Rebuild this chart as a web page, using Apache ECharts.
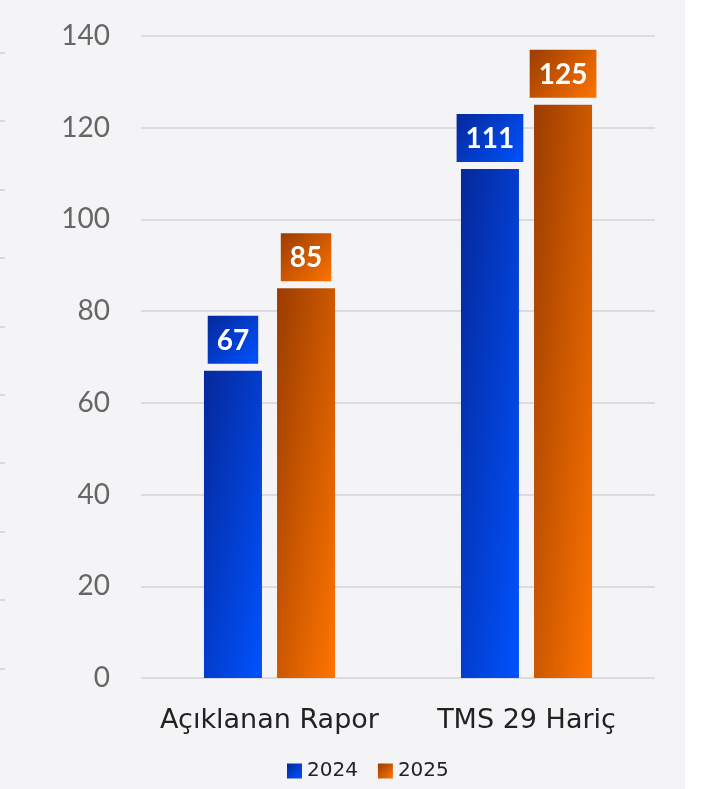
<!DOCTYPE html>
<html>
<head>
<meta charset="utf-8">
<script src="https://cdn.jsdelivr.net/npm/echarts@6/dist/echarts.min.js"></script>
<style>
html,body{margin:0;padding:0;background:#ffffff;}
#chart{width:714px;height:789px;}
</style>
</head>
<body>
<div id="chart"></div>
<script>
const categories = ['Açıklanan Rapor', 'TMS 29 Hariç'];
const seriesNames = ['2024', '2025'];
const values2024 = [67, 111];
const values2025 = [85, 125];
const yTicks = [0, 20, 40, 60, 80, 100, 120, 140];

const FONT_NUM = 'Lato, "Noto Sans", sans-serif';
const FONT_TXT = '"DejaVu Sans", "Noto Sans", sans-serif';
const BAR_W = 58;

const BLUE = ['#06289a', '#0052ff'];
const ORANGE = ['#9a3c00', '#ff7400'];

function grad(c, x2, y2) {
  return new echarts.graphic.LinearGradient(0, 0, x2, y2, [
    { offset: 0, color: c[0] },
    { offset: 1, color: c[1] }
  ]);
}
// gradient whose value is (u+v)/2 in the box's own normalized coordinates
function boxGrad(c, w, h) {
  const s = w * w + h * h;
  return grad(c, 2 * h * h / s, 2 * w * w / s);
}

const chart = echarts.init(document.getElementById('chart'), null, { renderer: 'canvas' });

const leftTicks = [];
for (let i = 0; i < 10; i++) {
  const y = Math.round(53 + i * 68.4);
  leftTicks.push({
    type: 'line',
    shape: { x1: 0, y1: y, x2: 5, y2: y },
    style: { stroke: '#d9d9dc', lineWidth: 2 },
    z: -1
  });
}

function labelCfg(c) {
  return {
    show: true,
    position: 'top',
    distance: 7,
    color: '#ffffff',
    fontFamily: FONT_NUM,
    fontWeight: 'bold',
    fontSize: 28,
    lineHeight: 30,
    padding: [10, 9, 8, 9],
    backgroundColor: grad(c, 1, 1)
  };
}

const option = {
  backgroundColor: '#ffffff',
  animation: false,
  graphic: [
    { type: 'rect', shape: { x: 0, y: 0, width: 685, height: 789 }, style: { fill: '#f4f4f6' }, z: -10, silent: true }
  ].concat(leftTicks),
  grid: { left: 141, right: 59, top: 36, bottom: 111, containLabel: false },
  legend: {
    data: seriesNames,
    bottom: 8,
    left: 287,
    padding: 0,
    itemWidth: 15,
    itemHeight: 15,
    itemGap: 20,
    icon: 'rect',
    textStyle: { fontFamily: FONT_TXT, fontSize: 20, color: '#222222' }
  },
  xAxis: {
    type: 'category',
    data: categories,
    axisLine: { show: false },
    axisTick: { show: false },
    axisLabel: { interval: 0, fontFamily: FONT_TXT, fontSize: 27, color: '#222222', margin: 29 }
  },
  yAxis: {
    type: 'value',
    min: yTicks[0],
    max: yTicks[yTicks.length - 1],
    interval: 20,
    axisLine: { show: false },
    axisTick: { show: false },
    axisLabel: { fontFamily: FONT_NUM, fontSize: 28, color: '#666666', margin: 31 },
    splitLine: { lineStyle: { color: '#dcdcdf', width: 2 } }
  },
  series: [
    {
      name: seriesNames[0],
      type: 'bar',
      data: values2024,
      barWidth: BAR_W,
      barGap: '26%',
      itemStyle: { color: grad(BLUE, 1, 1) },
      label: labelCfg(BLUE)
    },
    {
      name: seriesNames[1],
      type: 'bar',
      data: values2025,
      barWidth: BAR_W,
      barGap: '26%',
      itemStyle: { color: grad(ORANGE, 1, 1) },
      label: labelCfg(ORANGE)
    }
  ]
};
chart.setOption(option);

// per-bar gradients that follow each bar's own box
function styled(values, c) {
  const y0 = chart.convertToPixel({ yAxisIndex: 0 }, 0);
  return values.map(v => {
    const h = Math.max(1, y0 - chart.convertToPixel({ yAxisIndex: 0 }, v));
    return { value: v, itemStyle: { color: boxGrad(c, BAR_W, h) } };
  });
}
chart.setOption({
  series: [
    { data: styled(values2024, BLUE) },
    { data: styled(values2025, ORANGE) }
  ]
});
</script>
</body>
</html>
